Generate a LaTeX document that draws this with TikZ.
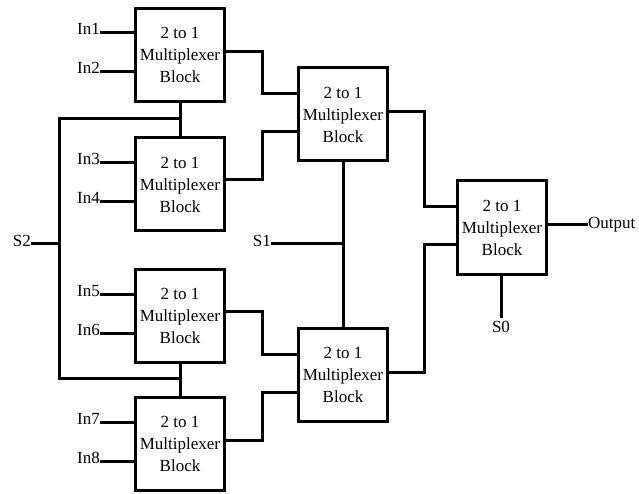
\documentclass[tikz,border=0pt]{standalone}
\usepackage{fontspec}
\setmainfont{Liberation Serif}
\usetikzlibrary{calc}
\tikzset{
  mux/.style={draw, line width=3pt, minimum width=89pt, minimum height=93pt,
    align=center, inner sep=0pt, font=\fontsize{17}{22}\selectfont},
  wire/.style={line width=3pt},
  lbl/.style={inner sep=0pt, font=\fontsize{17}{20}\selectfont},
}
\newcommand{\muxtext}{2 to 1\\Multiplexer\\Block}
\begin{document}
\begin{tikzpicture}[x=1pt,y=-1pt]
\useasboundingbox (0,0) rectangle (639,494);

% first stage
\node[mux] (A1) at (180,55) {\muxtext};
\node[mux] (A2) at (180,184.5) {\muxtext};
\node[mux] (A3) at (180,316) {\muxtext};
\node[mux] (A4) at (180,444) {\muxtext};
% second stage
\node[mux] (B1) at (343,114.5) {\muxtext};
\node[mux] (B2) at (343,374.5) {\muxtext};
% final stage
\node[mux] (C) at (502,227.5) {\muxtext};

% data inputs
\foreach \b/\u/\l in {A1/In1/In2, A2/In3/In4, A3/In5/In6, A4/In7/In8}{
  \coordinate (\b-in1) at ([yshift=22pt]\b.west);
  \coordinate (\b-in2) at ([yshift=-17pt]\b.west);
  \node[lbl, anchor=base east] (\b-l1) at ([xshift=-34pt,yshift=-2pt]\b-in1) {\u};
  \node[lbl, anchor=base east] (\b-l2) at ([xshift=-34pt,yshift=-2pt]\b-in2) {\l};
  \draw[wire] (\b-l1.base east |- \b-in1) -- (\b-in1);
  \draw[wire] (\b-l2.base east |- \b-in2) -- (\b-in2);
}

% first stage to second stage
\draw[wire] ([yshift=3pt]A1.east) -| (262,0 |- 0,94) -- ([yshift=20.5pt]B1.west);
\draw[wire] ([yshift=4.5pt]A2.east) -| (262,0 |- 0,132) -- ([yshift=-17.5pt]B1.west);
\draw[wire] ([yshift=5pt]A3.east) -| (262,0 |- 0,354) -- ([yshift=20.5pt]B2.west);
\draw[wire] ([yshift=4pt]A4.east) -| (262,0 |- 0,392) -- ([yshift=-17.5pt]B2.west);

% second stage to final stage
\draw[wire] ([yshift=2.5pt]B1.east) -| (424,0 |- 0,207) -- ([yshift=20.5pt]C.west);
\draw[wire] ([yshift=2.5pt]B2.east) -| (424,0 |- 0,244) -- ([yshift=-16.5pt]C.west);

% output
\node[lbl, anchor=west] (out) at (588,225) {Output};
\draw[wire] ([yshift=2.5pt]C.east) -- (out.west);

% select S2
\node[lbl, anchor=base east] (S2) at (31,246) {S2};
\coordinate (s2) at (59,243);
\coordinate (j1) at ($(A1.south)!0.45!(A2.north)$);
\coordinate (j2) at ($(A3.south)!0.45!(A4.north)$);
\draw[wire] (A1.south) -- (A2.north);
\draw[wire] (A3.south) -- (A4.north);
\draw[wire] (j1) -| (s2) |- (j2);
\draw[wire] (S2.base east |- s2) -- (s2);

% select S1
\node[lbl, anchor=base east] (S1) at (271,246) {S1};
\draw[wire] (B1.south) -- (B2.north);
\draw[wire] (S1.base east |- 0,243) -- (B1.south |- 0,243);

% select S0
\node[lbl, anchor=north] (S0) at (501,321) {S0};
\draw[wire] (C.south -| S0.north) -- ([yshift=3pt]S0.north);
\end{tikzpicture}
\end{document}
